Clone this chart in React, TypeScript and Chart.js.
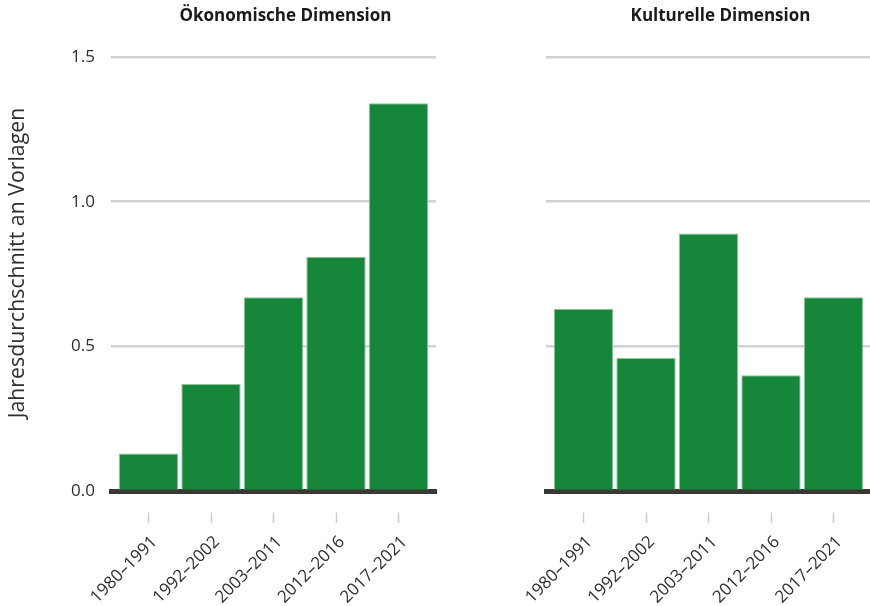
import React, { useEffect, useRef } from "react";
import { Chart, registerables } from "chart.js";

Chart.register(...registerables);

const categories = ["1980–1991", "1992–2002", "2003–2011", "2012–2016", "2017–2021"];
const oekonomisch = [0.13, 0.37, 0.67, 0.81, 1.34];
const kulturell = [0.63, 0.46, 0.89, 0.4, 0.67];
const yMin = 0;
const yMax = 1.5;
const yStep = 0.5;
const panelTitles = ["Ökonomische Dimension", "Kulturelle Dimension"];
const yAxisTitle = "Jahresdurchschnitt an Vorlagen";

const FONT = "'Open Sans', 'Noto Sans', sans-serif";
const BAR = "#16873a";

function makeConfig(values: number[], title: string, showY: boolean): any {
  const titlePlugin = {
    id: "panelTitles",
    afterDraw(chart: any) {
      const ctx = chart.ctx;
      const ca = chart.chartArea;
      ctx.save();
      ctx.fillStyle = "#1a1a1a";
      ctx.font = `bold 17px ${FONT}`;
      ctx.textAlign = "center";
      ctx.textBaseline = "middle";
      ctx.fillText(title, (ca.left + ca.right) / 2 + 12, 16);
      if (showY) {
        ctx.translate(17.5, 263);
        ctx.rotate(-Math.PI / 2);
        ctx.font = `21.3px ${FONT}`;
        ctx.fillStyle = "#2e2e2e";
        ctx.fillText(yAxisTitle, 0, 0);
      }
      ctx.restore();
    },
  };
  return {
    type: "bar",
    data: {
      datasets: [
        {
          data: values.map((v, i) => ({ x: i, y: v })),
          backgroundColor: BAR,
          borderColor: "#8cc79a",
          borderWidth: 1,
          barPercentage: 0.95,
          categoryPercentage: 1,
        },
      ],
    },
    options: {
      responsive: false,
      animation: false,
      devicePixelRatio: 1,
      layout: { padding: { left: 0, right: 4, top: 57, bottom: 0 } },
      plugins: { legend: { display: false }, tooltip: { enabled: false }, title: { display: false } },
      scales: {
        x: {
          type: "linear",
          min: -0.6,
          max: 4.6,
          offset: false,
          z: 1,
          afterFit: (s: any) => {
            s.height = 115;
          },
          border: { display: true, color: "#3b3735", width: 5 },
          grid: {
            display: true,
            offset: false,
            drawOnChartArea: false,
            drawTicks: true,
            tickLength: 32,
            tickColor: "#cfcccf",
            tickWidth: 1.5,
            tickBorderDash: [0, 18.5, 11, 300],
          },
          ticks: {
            stepSize: 1,
            includeBounds: false,
            autoSkip: false,
            minRotation: 45,
            maxRotation: 45,
            padding: 3,
            labelOffset: 6,
            color: "#2e2e2e",
            font: { family: FONT, size: 17, lineHeight: 2.2 },
            callback: (v: number) => categories[v] ?? "",
          },
        },
        y: {
          min: yMin,
          max: yMax,
          afterFit: (s: any) => {
            s.width = 111;
          },
          border: { display: false },
          grid: {
            drawTicks: false,
            color: (c: any) => (c.tick && c.tick.value === 0 ? "rgba(0,0,0,0)" : "#d3d0d3"),
            lineWidth: 2.5,
          },
          ticks: {
            display: showY,
            stepSize: yStep,
            padding: 16,
            color: "#2e2e2e",
            font: { family: FONT, size: 17 },
            callback: (v: number) => v.toFixed(1),
          },
        },
      },
    },
    plugins: [titlePlugin],
  };
}

function Panel({ values, title, showY, left }: { values: number[]; title: string; showY: boolean; left: number }) {
  const ref = useRef<HTMLCanvasElement>(null);
  useEffect(() => {
    const chart = new Chart(ref.current as HTMLCanvasElement, makeConfig(values, title, showY));
    return () => chart.destroy();
  }, []);
  return (
    <canvas
      ref={ref}
      width={440}
      height={606}
      style={{ position: "absolute", left, top: 0, width: 440, height: 606 }}
    />
  );
}

export default function App() {
  return (
    <div
      style={{
        position: "fixed",
        left: 0,
        top: 0,
        width: 870,
        height: 606,
        overflow: "hidden",
        background: "#fff",
      }}
    >
      <Panel values={oekonomisch} title={panelTitles[0]} showY={true} left={0} />
      <Panel values={kulturell} title={panelTitles[1]} showY={false} left={435} />
    </div>
  );
}
